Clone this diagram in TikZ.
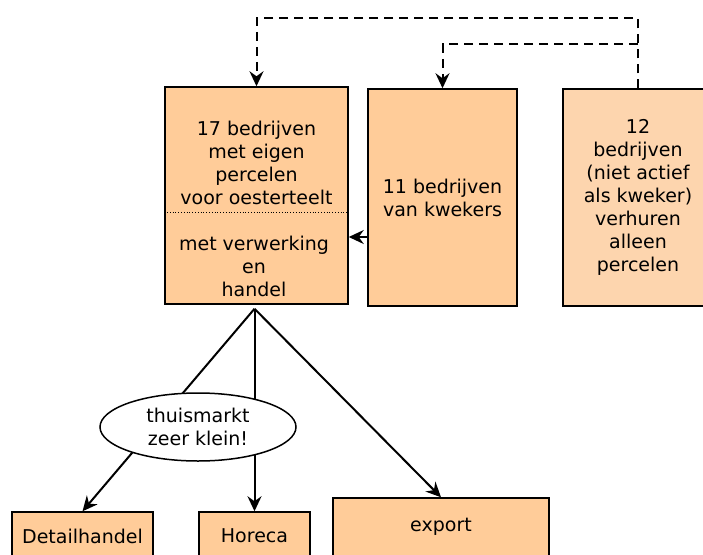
\documentclass[tikz,border=0pt]{standalone}
\usepackage{fontspec}
\setmainfont{DejaVu Sans}
\usetikzlibrary{arrows.meta,calc,shapes.geometric}
\definecolor{peach}{HTML}{FFCC99}
\definecolor{lightpeach}{HTML}{FDD5AE}
\tikzset{
  box/.style={draw,line width=1.5pt,fill=peach,inner sep=0pt,align=center,font=\fontsize{19}{23}\selectfont},
  txt/.style={inner sep=0pt,align=center,font=\fontsize{19}{23}\selectfont},
  conn/.style={draw,line width=2pt,arrows={-Stealth[length=15pt,width=14pt,inset=5pt]}},
  dconn/.style={conn,dash pattern=on 9pt off 6pt}
}
\begin{document}
\begin{tikzpicture}[x=1pt,y=-1pt]
\useasboundingbox (0,0) rectangle (703,554);
\clip (0,0) rectangle (703,554);
% top row
\node[box,minimum width=183pt,minimum height=217pt] (A) at (256.5,195.5) {};
\node[txt] (At) at (256.5,162.5) {17 bedrijven\\met eigen\\percelen\\voor oesterteelt};
\node[txt] (Ab) at (254,266.5) {met verwerking\\en\\handel};
\coordinate (dl) at (0,212);
\draw[dotted,line width=0.8pt] (A.west |- dl) -- (A.east |- dl);
\node[box,minimum width=149pt,minimum height=217pt] (B) at (442.5,197.5) {11 bedrijven\\van kwekers};
\node[box,fill=lightpeach,minimum width=150pt,minimum height=217pt] (C) at (638,197.5) {12\\bedrijven\\(niet actief\\als kweker)\\verhuren\\alleen\\percelen};
% dashed connectors
\coordinate (co) at ($(C.north)+(0,-70)$);
\coordinate (ci) at ($(C.north)+(0,-44)$);
\path[dconn] (C.north) -- (co) -| (A.north);
\path[dconn] (ci) -| (B.north);
% B -> A
\coordinate (ba) at (0,237);
\path[conn] (B.west |- ba) -- (A.east |- ba);
% bottom row
\node[box,minimum width=141pt,minimum height=48pt] (D) at (82.5,536) {Detailhandel};
\node[box,minimum width=111pt,minimum height=48pt] (H) at (254.5,536) {Horeca};
\node[box,minimum width=216pt,minimum height=58pt] (E) at (441,527) {export};
\coordinate (apex) at ($(A.south)+(-2,4)$);
\path[conn] (apex) -- (D.north);
\path[conn] (apex) -- (H.north);
\path[conn] (apex) -- (E.north);
\node[ellipse,draw,line width=1.5pt,fill=white,minimum width=196pt,minimum height=68pt,inner sep=0pt,align=center,font=\fontsize{19}{23}\selectfont] (T) at (198,427) {thuismarkt\\zeer klein!};
\end{tikzpicture}
\end{document}
